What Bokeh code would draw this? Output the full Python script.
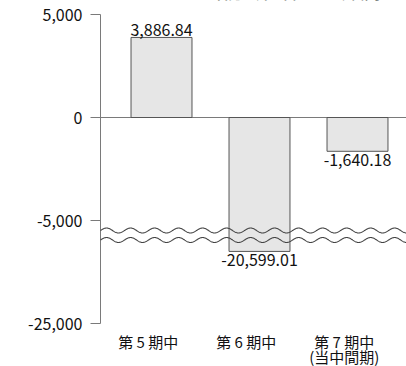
import numpy as np
from bokeh.plotting import figure
from bokeh.models import FixedTicker
from bokeh.embed import file_html
from bokeh.resources import INLINE
from bokeh.core.properties import value

# ---- data ----
categories = ["第 5 期中", "第 6 期中", "第 7 期中"]
category_notes = ["", "", "(当中間期)"]
values = [3886.84, -20599.01, -1640.18]
tick_values = [5000, 0, -5000, -25000]
tick_labels = ["5,000", "0", "-5,000", "-25,000"]
title_text = "（親会社株主に帰属する中間純損益）"

# ---- broken-axis mapping ----
BREAK_AT = -5000
LOW_END = -25000
LOW_DISPLAY = -10000
BAR_CLIP = -6500          # bars running past the break are cut here
FONT = "Noto Sans CJK JP"
AXIS_COLOR = "#7a7a7a"
TEXT_COLOR = "#111111"


def to_display(v):
    if v >= BREAK_AT:
        return v
    return BREAK_AT + (v - BREAK_AT) * (LOW_DISPLAY - BREAK_AT) / (LOW_END - BREAK_AT)


def key(v):
    return int(v) if float(v).is_integer() else v


# frame covers the full canvas height; the axis line and ticks are drawn as glyphs
X0, X1 = -0.745, 2.5
AX = -0.6224              # x position of the vertical axis line
TICK_LEN = 0.102
Y0, Y1 = -12087, 5680

p = figure(width=406, height=366, x_range=(X0, X1), y_range=(Y0, Y1),
           output_backend="svg", toolbar_location=None,
           min_border_left=88, min_border_right=0, min_border_top=0,
           min_border_bottom=0)
p.outline_line_color = None
p.xgrid.visible = False
p.ygrid.visible = False
p.xaxis.visible = False
p.background_fill_color = "white"
p.border_fill_color = "white"

# y axis labels (axis line and ticks drawn below as glyphs)
disp_ticks = [to_display(t) for t in tick_values]
p.yaxis.ticker = FixedTicker(ticks=disp_ticks)
p.yaxis.major_label_overrides = {key(d): l for d, l in zip(disp_ticks, tick_labels)}
p.yaxis.axis_line_color = None
p.yaxis.major_tick_line_color = None
p.yaxis.minor_tick_line_color = None
p.yaxis.major_tick_out = 0
p.yaxis.major_tick_in = 0
p.yaxis.major_label_standoff = 6
p.yaxis.major_label_text_font = FONT
p.yaxis.major_label_text_font_size = "16px"
p.yaxis.major_label_text_color = TEXT_COLOR

top_disp, bot_disp = to_display(max(tick_values)), to_display(min(tick_values))
p.segment(x0=[AX], y0=[bot_disp], x1=[AX], y1=[top_disp], line_color=AXIS_COLOR, line_width=1)
p.segment(x0=[AX - TICK_LEN] * len(disp_ticks), y0=disp_ticks, x1=[AX] * len(disp_ticks),
          y1=disp_ticks, line_color=AXIS_COLOR, line_width=1)

# zero line
p.segment(x0=[AX], y0=[0], x1=[X1], y1=[0], line_color=AXIS_COLOR, line_width=1)

# bars
xs = list(range(len(values)))
disp = [max(to_display(v), BAR_CLIP) for v in values]
tops = [max(d, 0) for d in disp]
bottoms = [min(d, 0) for d in disp]
p.vbar(x=xs, width=0.622, top=tops, bottom=bottoms, fill_color="#e6e6e6",
       line_color="#555555", line_width=1)

# value labels
labels = [f"{v:,.2f}" for v in values]
pos = [i for i, v in enumerate(values) if v >= 0]
neg = [i for i, v in enumerate(values) if v < 0]
p.text(x=[xs[i] for i in pos], y=[tops[i] for i in pos], text=[labels[i] for i in pos],
       text_align="center", text_baseline="bottom", y_offset=-1,
       text_font=value(FONT), text_font_size="16px", text_color=TEXT_COLOR)
p.text(x=[xs[i] for i in neg], y=[bottoms[i] for i in neg], text=[labels[i] for i in neg],
       text_align="center", text_baseline="top", y_offset=3,
       text_font=value(FONT), text_font_size="16px", text_color=TEXT_COLOR)

# break marks (wavy lines)
wx = np.linspace(AX, X1, 600)
PERIOD, AMP = 0.245, 120
for c in (-5485, -5946):
    p.line(wx, c + AMP * np.sin(2 * np.pi * (wx - AX) / PERIOD),
           line_color="#444444", line_width=1.1)

# category labels (shifted slightly left of the bars)
LABEL_SHIFT = -0.135
cx = [i + LABEL_SHIFT for i in range(len(categories))]
p.text(x=cx, y=[bot_disp] * len(cx), text=categories, y_offset=7,
       text_align="center", text_baseline="top",
       text_font=value(FONT), text_font_size="15px", text_color=TEXT_COLOR)
nx = [x for x, n in zip(cx, category_notes) if n]
p.text(x=nx, y=[bot_disp] * len(nx), text=[n for n in category_notes if n], y_offset=22,
       text_align="center", text_baseline="top",
       text_font=value(FONT), text_font_size="15px", text_color=TEXT_COLOR)

# title (cut at the top edge)
p.text(x=[0.40], y=[top_disp], text=[title_text], y_offset=-10,
       text_align="left", text_baseline="bottom",
       text_font=value(FONT), text_font_size="20px", text_color=TEXT_COLOR)

open("out.html", "w").write(file_html(p, INLINE))
